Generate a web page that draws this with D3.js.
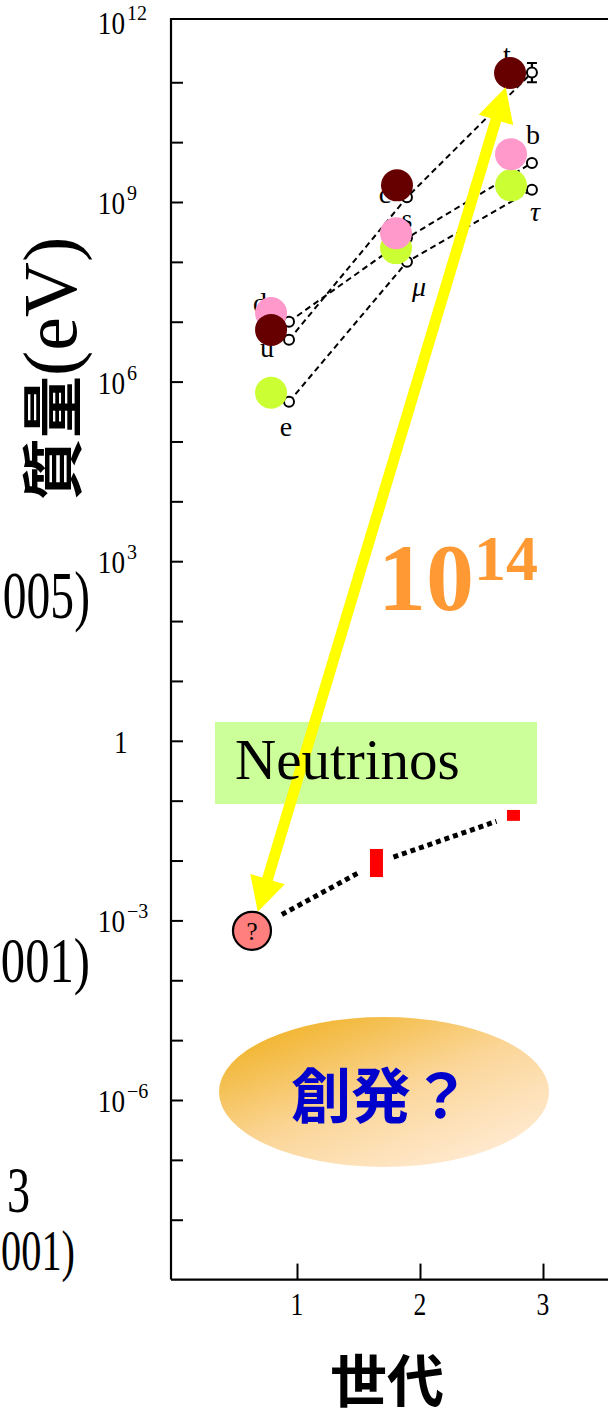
<!DOCTYPE html>
<html>
<head>
<meta charset="utf-8">
<script src="https://cdn.jsdelivr.net/npm/d3@7"></script>
<style>
  html, body { margin: 0; padding: 0; background: #fff; }
  svg { display: block; }
  .serif { font-family: "Liberation Serif", "Times New Roman", serif; }
  .cjk { font-family: "Noto Sans CJK JP", sans-serif; font-weight: 700; }
</style>
</head>
<body>
<div id="chart"></div>
<script>
// fermion masses (eV) (open markers)
var particleNames = ["u", "d", "e", "c", "s", "\u03bc", "t", "b", "\u03c4"];
var particleType  = ["up", "down", "lepton", "up", "down", "lepton", "up", "down", "lepton"];
var particleGen   = [0.935, 0.935, 0.935, 1.894, 1.894, 1.894, 2.91, 2.91, 2.91];
var particleMass  = [5.0e6, 1.0e7, 4.6e5, 1.2e9, 2.5e8, 1.0e8, 1.45e11, 4.5e9, 1.6e9];

// coloured discs pasted over the figure
var overlayGen  = [0.789, 0.789, 0.789, 1.813, 1.805, 1.805, 2.732, 2.74, 2.74];
var overlayMass = [7.3e6, 1.4e7, 6.5e5, 1.9e9, 3.0e8, 1.7e8, 1.43e11, 6.3e9, 1.9e9];

// top quark error bar
var topErr = [1.0e11, 2.1e11];

// neutrinos, the first one is the unknown "?"
var nuGen  = [0.634, 1.646, 2.76];
var nuLow  = [6.7e-4, 0.0053, 0.046];
var nuHigh = [6.7e-4, 0.0156, 0.070];

var genTicks = [1, 2, 3];
var decadeTicks = [-8, -7, -6, -5, -4, -3, -2, -1, 0, 1, 2, 3, 4, 5, 6, 7, 8, 9, 10, 11];
var labelPowers = [-6, -3, 0, 3, 6, 9, 12];
var supText = {"-6": "\u22126", "-3": "\u22123", "3": "3", "6": "6", "9": "9", "12": "12"};

(function() {

    var width = 608,
        height = 1419;

    var colorOf = { up: "#660000", down: "#ff99cc", lepton: "#ccff33" };
    var labelOffset = {
        "u": [-22, 8], "d": [-29, -19], "e": [-3, 25],
        "c": [-22, -4], "s": [0, -20], "\u03bc": [12, 25],
        "t": [-25, -18], "b": [1, -28], "\u03c4": [3, 22]
    };

    var svg = d3.select("#chart").append("svg")
        .attr("width", width)
        .attr("height", height);

    var x = d3.scaleLinear().domain([0, 3.6]).range([174, 616.8]);
    var y = d3.scaleLog().domain([1e-9, 1e12]).range([1279.6, 22.4]);

    var particles = particleNames.map(function(n, i) {
        return {
            name: n, type: particleType[i],
            gen: particleGen[i], mass: particleMass[i],
            ogen: overlayGen[i], omass: overlayMass[i]
        };
    });

    var defs = svg.append("defs");
    var grad = defs.append("linearGradient")
        .attr("id", "ovalGrad")
        .attr("x1", "0.12").attr("y1", "0.1")
        .attr("x2", "0.85").attr("y2", "0.95");
    grad.append("stop").attr("offset", "0").attr("stop-color", "#f1b42c");
    grad.append("stop").attr("offset", "0.5").attr("stop-color", "#fbd699");
    grad.append("stop").attr("offset", "1").attr("stop-color", "#ffebd4");

    var axisX = 171;

    // frame
    svg.append("path")
        .attr("d", "M" + axisX + "," + (y(1e-9)) + "V19H" + (width + 5)
            + "M" + axisX + "," + y(1e-9) + "H" + (width + 5))
        .attr("fill", "none")
        .attr("stroke", "#000")
        .attr("stroke-width", 2.2);

    // y ticks, inside
    var yAxis = svg.append("g")
        .attr("transform", "translate(" + axisX + ",0)")
        .call(d3.axisLeft(y)
            .tickValues(decadeTicks.map(function(p) { return Math.pow(10, p); }))
            .tickSize(-12)
            .tickFormat(""));
    yAxis.select(".domain").remove();
    yAxis.selectAll(".tick line").attr("stroke-width", 2);

    var xAxis = svg.append("g")
        .attr("transform", "translate(0," + y(1e-9) + ")")
        .call(d3.axisBottom(x)
            .tickValues(genTicks)
            .tickSize(-16)
            .tickFormat(""));
    xAxis.select(".domain").remove();
    xAxis.selectAll(".tick line").attr("stroke-width", 2);

    // y tick labels
    labelPowers.forEach(function(p) {
        var g = svg.append("g")
            .attr("class", "serif")
            .attr("transform", "translate(125," + (y(Math.pow(10, p)) + 12) + ")");
        if (p === 0) {
            g.append("text")
                .attr("x", 3)
                .attr("text-anchor", "end")
                .attr("font-size", 32)
                .attr("transform", "scale(0.85,1)")
                .text("1");
            return;
        }
        g.append("text")
            .attr("text-anchor", "end")
            .attr("font-size", 32)
            .attr("transform", "scale(0.85,1)")
            .text("10");
        g.append("text")
            .attr("x", 2)
            .attr("y", -14)
            .attr("font-size", 20)
            .text(supText[p]);
    });

    // x tick labels
    svg.selectAll(".genlabel")
        .data(genTicks)
        .enter().append("g")
        .attr("class", "genlabel serif")
        .attr("transform", function(d) { return "translate(" + x(d) + ",1315)"; })
        .append("text")
        .attr("text-anchor", "middle")
        .attr("font-size", 32)
        .attr("transform", "scale(0.8,1)")
        .text(function(d) { return d; });

    // axis titles
    var yTitle = svg.append("text")
        .attr("transform", "translate(76,500) rotate(-90)");
    yTitle.append("tspan").attr("class", "cjk").attr("font-size", 62).text("質量");
    yTitle.append("tspan").attr("class", "serif").attr("font-size", 76).text("(eV)");

    svg.append("text")
        .attr("class", "cjk")
        .attr("x", 387)
        .attr("y", 1377)
        .attr("dominant-baseline", "central")
        .attr("text-anchor", "middle")
        .attr("font-size", 57)
        .text("世代");

    // bits of the neighbouring slide text
    [["005)", 90, 618, 68, 0.7], ["001)", 90, 982, 64, 0.76], ["3", 30, 1212, 66, 0.7], ["001)", 75, 1270, 56, 0.72]]
        .forEach(function(t) {
            svg.append("g")
                .attr("class", "serif")
                .attr("transform", "translate(" + t[1] + "," + t[2] + ")")
                .append("text")
                .attr("text-anchor", "end")
                .attr("font-size", t[3])
                .attr("transform", "scale(" + t[4] + ",1)")
                .text(t[0]);
        });

    // dashed lines of each family
    var line = d3.line()
        .x(function(d) { return x(d.gen); })
        .y(function(d) { return y(d.mass); });

    ["up", "down", "lepton"].forEach(function(type) {
        svg.append("path")
            .datum(particles.filter(function(d) { return d.type === type; }))
            .attr("d", line)
            .attr("fill", "none")
            .attr("stroke", "#000")
            .attr("stroke-width", 2)
            .attr("stroke-dasharray", "6 4");
    });

    // top quark error bar
    var tq = particles[6];
    svg.append("path")
        .attr("d", "M" + x(tq.gen) + "," + y(topErr[0]) + "V" + y(topErr[1])
            + "M" + (x(tq.gen) - 5) + "," + y(topErr[0]) + "h10"
            + "M" + (x(tq.gen) - 5) + "," + y(topErr[1]) + "h10")
        .attr("stroke", "#000")
        .attr("stroke-width", 2.2);

    svg.selectAll(".marker")
        .data(particles)
        .enter().append("circle")
        .attr("class", "marker")
        .attr("cx", function(d) { return x(d.gen); })
        .attr("cy", function(d) { return y(d.mass); })
        .attr("r", 5)
        .attr("fill", "#fff")
        .attr("stroke", "#000")
        .attr("stroke-width", 2);

    svg.selectAll(".plabel")
        .data(particles)
        .enter().append("text")
        .attr("class", "plabel serif")
        .attr("x", function(d) { return x(d.gen) + labelOffset[d.name][0]; })
        .attr("y", function(d) { return y(d.mass) + labelOffset[d.name][1]; })
        .attr("text-anchor", "middle")
        .attr("dominant-baseline", "central")
        .attr("font-size", 28)
        .attr("font-style", function(d) { return d.name.charCodeAt(0) > 900 ? "italic" : "normal"; })
        .text(function(d) { return d.name; });

    // coloured discs: leptons under, up-type quarks on top
    var order = { lepton: 0, down: 1, up: 2 };
    svg.selectAll(".disc")
        .data(particles.slice().sort(function(a, b) { return order[a.type] - order[b.type]; }))
        .enter().append("circle")
        .attr("class", "disc")
        .attr("cx", function(d) { return x(d.ogen); })
        .attr("cy", function(d) { return y(d.omass); })
        .attr("r", 16)
        .attr("fill", function(d) { return colorOf[d.type]; });

    // neutrino box
    svg.append("rect")
        .attr("x", 215).attr("y", 722)
        .attr("width", 322).attr("height", 82)
        .attr("fill", "#ccff99");

    // neutrino dotted line, broken at each mark
    var nu = nuGen.map(function(g, i) {
        return [x(g), y(Math.sqrt(nuLow[i] * nuHigh[i]))];
    });
    var gaps = [[34, 18], [18, 18]];
    for (var i = 0; i < 2; i++) {
        var a = nu[i], b = nu[i + 1];
        var L = Math.hypot(b[0] - a[0], b[1] - a[1]);
        var ux = (b[0] - a[0]) / L, uy = (b[1] - a[1]) / L;
        svg.append("line")
            .attr("x1", a[0] + ux * gaps[i][0]).attr("y1", a[1] + uy * gaps[i][0])
            .attr("x2", b[0] - ux * gaps[i][1]).attr("y2", b[1] - uy * gaps[i][1])
            .attr("stroke", "#000")
            .attr("stroke-width", 5)
            .attr("stroke-dasharray", "5 4");
    }

    svg.selectAll(".nubar")
        .data(nuGen.slice(1))
        .enter().append("rect")
        .attr("class", "nubar")
        .attr("x", function(d) { return x(d) - 6.5; })
        .attr("y", function(d, i) { return y(nuHigh[i + 1]); })
        .attr("width", 13)
        .attr("height", function(d, i) { return y(nuLow[i + 1]) - y(nuHigh[i + 1]); })
        .attr("fill", "#ff0000");

    // double headed arrow from top quark down to the lightest neutrino
    function arrowPoints(a, b, shaftW, headL, headW) {
        var dx = b[0] - a[0], dy = b[1] - a[1], L = Math.hypot(dx, dy);
        var ux = dx / L, uy = dy / L, nx = -uy, ny = ux;
        function P(t, s) { return [a[0] + ux * t + nx * s, a[1] + uy * t + ny * s]; }
        return [P(0, 0), P(headL, headW), P(headL, shaftW / 2), P(L - headL, shaftW / 2),
            P(L - headL, headW), P(L, 0), P(L - headL, -headW), P(L - headL, -shaftW / 2),
            P(headL, -shaftW / 2), P(headL, -headW)];
    }
    var pTop = [x(tq.ogen), y(tq.omass)], pNu = nu[0];
    var D = Math.hypot(pNu[0] - pTop[0], pNu[1] - pTop[1]);
    var vx = (pNu[0] - pTop[0]) / D, vy = (pNu[1] - pTop[1]) / D;
    svg.append("polygon")
        .attr("points", arrowPoints(
            [pTop[0] + vx * 15, pTop[1] + vy * 15],
            [pNu[0] - vx * 20, pNu[1] - vy * 20], 11, 34, 18).join(" "))
        .attr("fill", "#ffff00");

    svg.append("text")
        .attr("class", "serif")
        .attr("x", 235)
        .attr("y", 779)
        .attr("font-size", 57)
        .text("Neutrinos");

    svg.append("circle")
        .attr("cx", pNu[0]).attr("cy", pNu[1])
        .attr("r", 19)
        .attr("fill", "#ff7f7f")
        .attr("stroke", "#000")
        .attr("stroke-width", 2.2);
    svg.append("text")
        .attr("class", "serif")
        .attr("x", pNu[0]).attr("y", pNu[1] + 9)
        .attr("text-anchor", "middle")
        .attr("font-size", 25)
        .text("?");

    // 10^14 annotation
    var big = svg.append("text")
        .attr("class", "serif")
        .attr("x", 378)
        .attr("y", 610)
        .attr("font-weight", "bold")
        .attr("fill", "#ff9933");
    big.append("tspan").attr("font-size", 96).text("10");
    big.append("tspan").attr("font-size", 64).attr("dy", -30).text("14");

    // emergence oval
    svg.append("ellipse")
        .attr("cx", 384).attr("cy", 1092)
        .attr("rx", 165).attr("ry", 75)
        .attr("fill", "url(#ovalGrad)");
    svg.append("text")
        .attr("class", "cjk")
        .attr("x", 381)
        .attr("y", 1091)
        .attr("dominant-baseline", "central")
        .attr("text-anchor", "middle")
        .attr("font-size", 60)
        .attr("fill", "#0000cc")
        .text("創発？");

})();
</script>
</body>
</html>
